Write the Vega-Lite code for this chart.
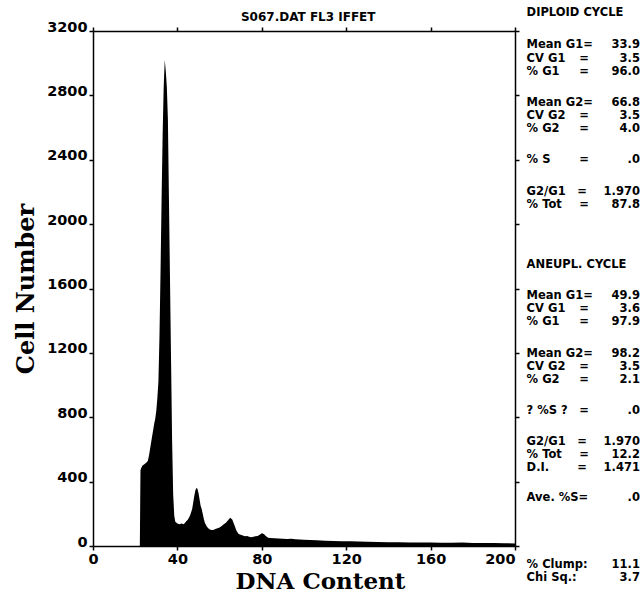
{
  "$schema": "https://vega.github.io/schema/vega-lite/v6.json",
  "width": 422,
  "height": 515,
  "autosize": {"type": "none"},
  "padding": {"left": 93, "top": 31, "right": 128, "bottom": 51},
  "background": "white",
  "config": {
    "view": {"stroke": null},
    "axis": {"domainColor": "black", "domainWidth": 1.5, "tickColor": "black", "tickWidth": 1.5, "tickSize": 4, "labelFont": "DejaVu Sans", "labelFontWeight": "bold", "labelFontSize": 14.5, "labelColor": "black", "grid": false, "labelPadding": 2, "titleColor": "black"},
    "text": {"font": "DejaVu Sans", "fontWeight": "bold", "fontSize": 11.5, "baseline": "middle", "color": "black"}
  },
  "datasets": {
    "stats": [
      {"x": 205.5, "xr": 259.2, "xe": 230.5, "y": 3312, "label": "DIPLOID CYCLE", "eq": "", "value": ""},
      {"x": 205.5, "xr": 259.2, "xe": 230.5, "y": 3113, "label": "Mean G1=", "eq": "", "value": "33.9"},
      {"x": 205.5, "xr": 259.2, "xe": 230.5, "y": 3026, "label": "CV G1", "eq": "=", "value": "3.5"},
      {"x": 205.5, "xr": 259.2, "xe": 230.5, "y": 2945, "label": "% G1", "eq": "=", "value": "96.0"},
      {"x": 205.5, "xr": 259.2, "xe": 230.5, "y": 2753, "label": "Mean G2=", "eq": "", "value": "66.8"},
      {"x": 205.5, "xr": 259.2, "xe": 230.5, "y": 2672, "label": "CV G2", "eq": "=", "value": "3.5"},
      {"x": 205.5, "xr": 259.2, "xe": 230.5, "y": 2591, "label": "% G2", "eq": "=", "value": "4.0"},
      {"x": 205.5, "xr": 259.2, "xe": 230.5, "y": 2398, "label": "% S", "eq": "=", "value": ".0"},
      {"x": 205.5, "xr": 259.2, "xe": 229.5, "y": 2200, "label": "G2/G1", "eq": "=", "value": "1.970"},
      {"x": 205.5, "xr": 259.2, "xe": 230.5, "y": 2119, "label": "% Tot", "eq": "=", "value": "87.8"},
      {"x": 205.5, "xr": 259.2, "xe": 230.5, "y": 1746, "label": "ANEUPL. CYCLE", "eq": "", "value": ""},
      {"x": 205.5, "xr": 259.2, "xe": 230.5, "y": 1553, "label": "Mean G1=", "eq": "", "value": "49.9"},
      {"x": 205.5, "xr": 259.2, "xe": 230.5, "y": 1473, "label": "CV G1", "eq": "=", "value": "3.6"},
      {"x": 205.5, "xr": 259.2, "xe": 230.5, "y": 1392, "label": "% G1", "eq": "=", "value": "97.9"},
      {"x": 205.5, "xr": 259.2, "xe": 230.5, "y": 1193, "label": "Mean G2=", "eq": "", "value": "98.2"},
      {"x": 205.5, "xr": 259.2, "xe": 230.5, "y": 1112, "label": "CV G2", "eq": "=", "value": "3.5"},
      {"x": 205.5, "xr": 259.2, "xe": 230.5, "y": 1031, "label": "% G2", "eq": "=", "value": "2.1"},
      {"x": 205.5, "xr": 259.2, "xe": 230.5, "y": 839, "label": "? %S ?", "eq": "=", "value": ".0"},
      {"x": 205.5, "xr": 259.2, "xe": 229.5, "y": 646, "label": "G2/G1", "eq": "=", "value": "1.970"},
      {"x": 205.5, "xr": 259.2, "xe": 230.5, "y": 565, "label": "% Tot", "eq": "=", "value": "12.2"},
      {"x": 205.5, "xr": 259.2, "xe": 229.5, "y": 485, "label": "D.I.", "eq": "=", "value": "1.471"},
      {"x": 205.5, "xr": 259.2, "xe": 230.5, "y": 298, "label": "Ave. %S=", "eq": "", "value": ".0"},
      {"x": 205.5, "xr": 259.2, "xe": 230.5, "y": -118, "label": "% Clump:", "eq": "", "value": "11.1"},
      {"x": 205.5, "xr": 259.2, "xe": 230.5, "y": -199, "label": "Chi Sq.:", "eq": "", "value": "3.7"}
    ]
  },
  "resolve": {"axis": {"x": "independent", "y": "independent"}},
  "layer": [
    {
      "data": {"values": [
        {"dna": 0, "count": 0}, {"dna": 22.2, "count": 0}, {"dna": 22.5, "count": 470}, {"dna": 23, "count": 490}, {"dna": 23.5, "count": 500}, {"dna": 24, "count": 505}, {"dna": 24.5, "count": 510}, {"dna": 25, "count": 515}, {"dna": 25.5, "count": 520}, {"dna": 26, "count": 530}, {"dna": 26.5, "count": 560}, {"dna": 27, "count": 600}, {"dna": 27.5, "count": 640}, {"dna": 28, "count": 680}, {"dna": 28.5, "count": 720}, {"dna": 29, "count": 760}, {"dna": 29.5, "count": 790}, {"dna": 30, "count": 840}, {"dna": 30.5, "count": 920}, {"dna": 31, "count": 1020}, {"dna": 31.5, "count": 1300}, {"dna": 32, "count": 1700}, {"dna": 32.5, "count": 2150}, {"dna": 33, "count": 2550}, {"dna": 33.5, "count": 2850}, {"dna": 34, "count": 3020}, {"dna": 34.5, "count": 2950}, {"dna": 35, "count": 2850}, {"dna": 35.5, "count": 2650}, {"dna": 36, "count": 2150}, {"dna": 36.5, "count": 1650}, {"dna": 37, "count": 1150}, {"dna": 37.5, "count": 650}, {"dna": 38, "count": 320}, {"dna": 38.5, "count": 190}, {"dna": 39, "count": 150}, {"dna": 40, "count": 140}, {"dna": 41, "count": 135}, {"dna": 42, "count": 140}, {"dna": 43, "count": 135}, {"dna": 44, "count": 150}, {"dna": 45, "count": 165}, {"dna": 46, "count": 190}, {"dna": 47, "count": 230}, {"dna": 47.5, "count": 270}, {"dna": 48, "count": 310}, {"dna": 48.5, "count": 345}, {"dna": 49, "count": 360}, {"dna": 49.5, "count": 355}, {"dna": 50, "count": 330}, {"dna": 50.5, "count": 290}, {"dna": 51, "count": 250}, {"dna": 51.5, "count": 230}, {"dna": 52, "count": 200}, {"dna": 52.5, "count": 170}, {"dna": 53, "count": 145}, {"dna": 54, "count": 120}, {"dna": 55, "count": 105}, {"dna": 56, "count": 100}, {"dna": 57, "count": 100}, {"dna": 58, "count": 105}, {"dna": 59, "count": 110}, {"dna": 60, "count": 115}, {"dna": 61, "count": 125}, {"dna": 62, "count": 135}, {"dna": 63, "count": 145}, {"dna": 64, "count": 160}, {"dna": 65, "count": 175}, {"dna": 66, "count": 165}, {"dna": 67, "count": 130}, {"dna": 68, "count": 95}, {"dna": 69, "count": 75}, {"dna": 70, "count": 70}, {"dna": 71, "count": 65}, {"dna": 72, "count": 60}, {"dna": 73, "count": 62}, {"dna": 74, "count": 58}, {"dna": 75, "count": 55}, {"dna": 76, "count": 58}, {"dna": 77, "count": 60}, {"dna": 78, "count": 62}, {"dna": 79, "count": 70}, {"dna": 80, "count": 80}, {"dna": 81, "count": 75}, {"dna": 82, "count": 60}, {"dna": 83, "count": 52}, {"dna": 84, "count": 50}, {"dna": 86, "count": 48}, {"dna": 88, "count": 46}, {"dna": 90, "count": 45}, {"dna": 92, "count": 44}, {"dna": 94, "count": 45}, {"dna": 96, "count": 42}, {"dna": 98, "count": 40}, {"dna": 100, "count": 39}, {"dna": 103, "count": 37}, {"dna": 106, "count": 35}, {"dna": 110, "count": 33}, {"dna": 114, "count": 31}, {"dna": 118, "count": 30}, {"dna": 122, "count": 29}, {"dna": 126, "count": 28}, {"dna": 130, "count": 26}, {"dna": 135, "count": 25}, {"dna": 140, "count": 24}, {"dna": 145, "count": 23}, {"dna": 150, "count": 22}, {"dna": 155, "count": 22}, {"dna": 160, "count": 21}, {"dna": 165, "count": 20}, {"dna": 170, "count": 20}, {"dna": 175, "count": 21}, {"dna": 180, "count": 19}, {"dna": 185, "count": 18}, {"dna": 190, "count": 18}, {"dna": 195, "count": 17}, {"dna": 200, "count": 16}
      ]},
      "mark": {"type": "area", "color": "black", "interpolate": "linear"},
      "encoding": {
        "x": {"field": "dna", "type": "quantitative", "scale": {"domain": [0, 200], "nice": false, "zero": false},
          "axis": {"orient": "bottom", "values": [0, 40, 80, 120, 160, 200], "labelFlush": false, "format": "d",
            "labelAlign": {"condition": {"test": "datum.value == 200", "value": "right"}, "value": "center"},
            "title": "DNA Content", "titleFont": "DejaVu Serif", "titleFontWeight": "bold", "titleFontSize": 23, "titlePadding": 5, "titleX": 227}},
        "y": {"field": "count", "type": "quantitative", "scale": {"domain": [0, 3200], "nice": false, "zero": true},
          "axis": {"orient": "left", "values": [0, 400, 800, 1200, 1600, 2000, 2400, 2800, 3200], "labelBaseline": "alphabetic", "format": "d",
            "title": "Cell Number", "titleFont": "DejaVu Serif", "titleFontWeight": "bold", "titleFontSize": 24, "titlePadding": 8}}
      }
    },
    {
      "data": {"name": "stats"},
      "mark": {"type": "text", "align": "left"},
      "encoding": {
        "x": {"field": "x", "type": "quantitative",
          "axis": {"orient": "top", "labels": false, "title": null, "values": [0, 40, 80, 120, 160, 200]}},
        "y": {"field": "y", "type": "quantitative",
          "axis": {"orient": "right", "labels": false, "title": null, "values": [0, 400, 800, 1200, 1600, 2000, 2400, 2800, 3200]}},
        "text": {"field": "label", "type": "nominal"}
      }
    },
    {
      "data": {"name": "stats"},
      "mark": {"type": "text", "align": "left"},
      "encoding": {
        "x": {"field": "xe", "type": "quantitative", "axis": null},
        "y": {"field": "y", "type": "quantitative", "axis": null},
        "text": {"field": "eq", "type": "nominal"}
      }
    },
    {
      "data": {"name": "stats"},
      "mark": {"type": "text", "align": "right"},
      "encoding": {
        "x": {"field": "xr", "type": "quantitative", "axis": null},
        "y": {"field": "y", "type": "quantitative", "axis": null},
        "text": {"field": "value", "type": "nominal"}
      }
    },
    {
      "data": {"values": [{"x": 102, "y": 3287, "label": "S067.DAT FL3 IFFET"}]},
      "mark": {"type": "text", "align": "center", "fontSize": 12},
      "encoding": {
        "x": {"field": "x", "type": "quantitative", "axis": null},
        "y": {"field": "y", "type": "quantitative", "axis": null},
        "text": {"field": "label", "type": "nominal"}
      }
    }
  ]
}
